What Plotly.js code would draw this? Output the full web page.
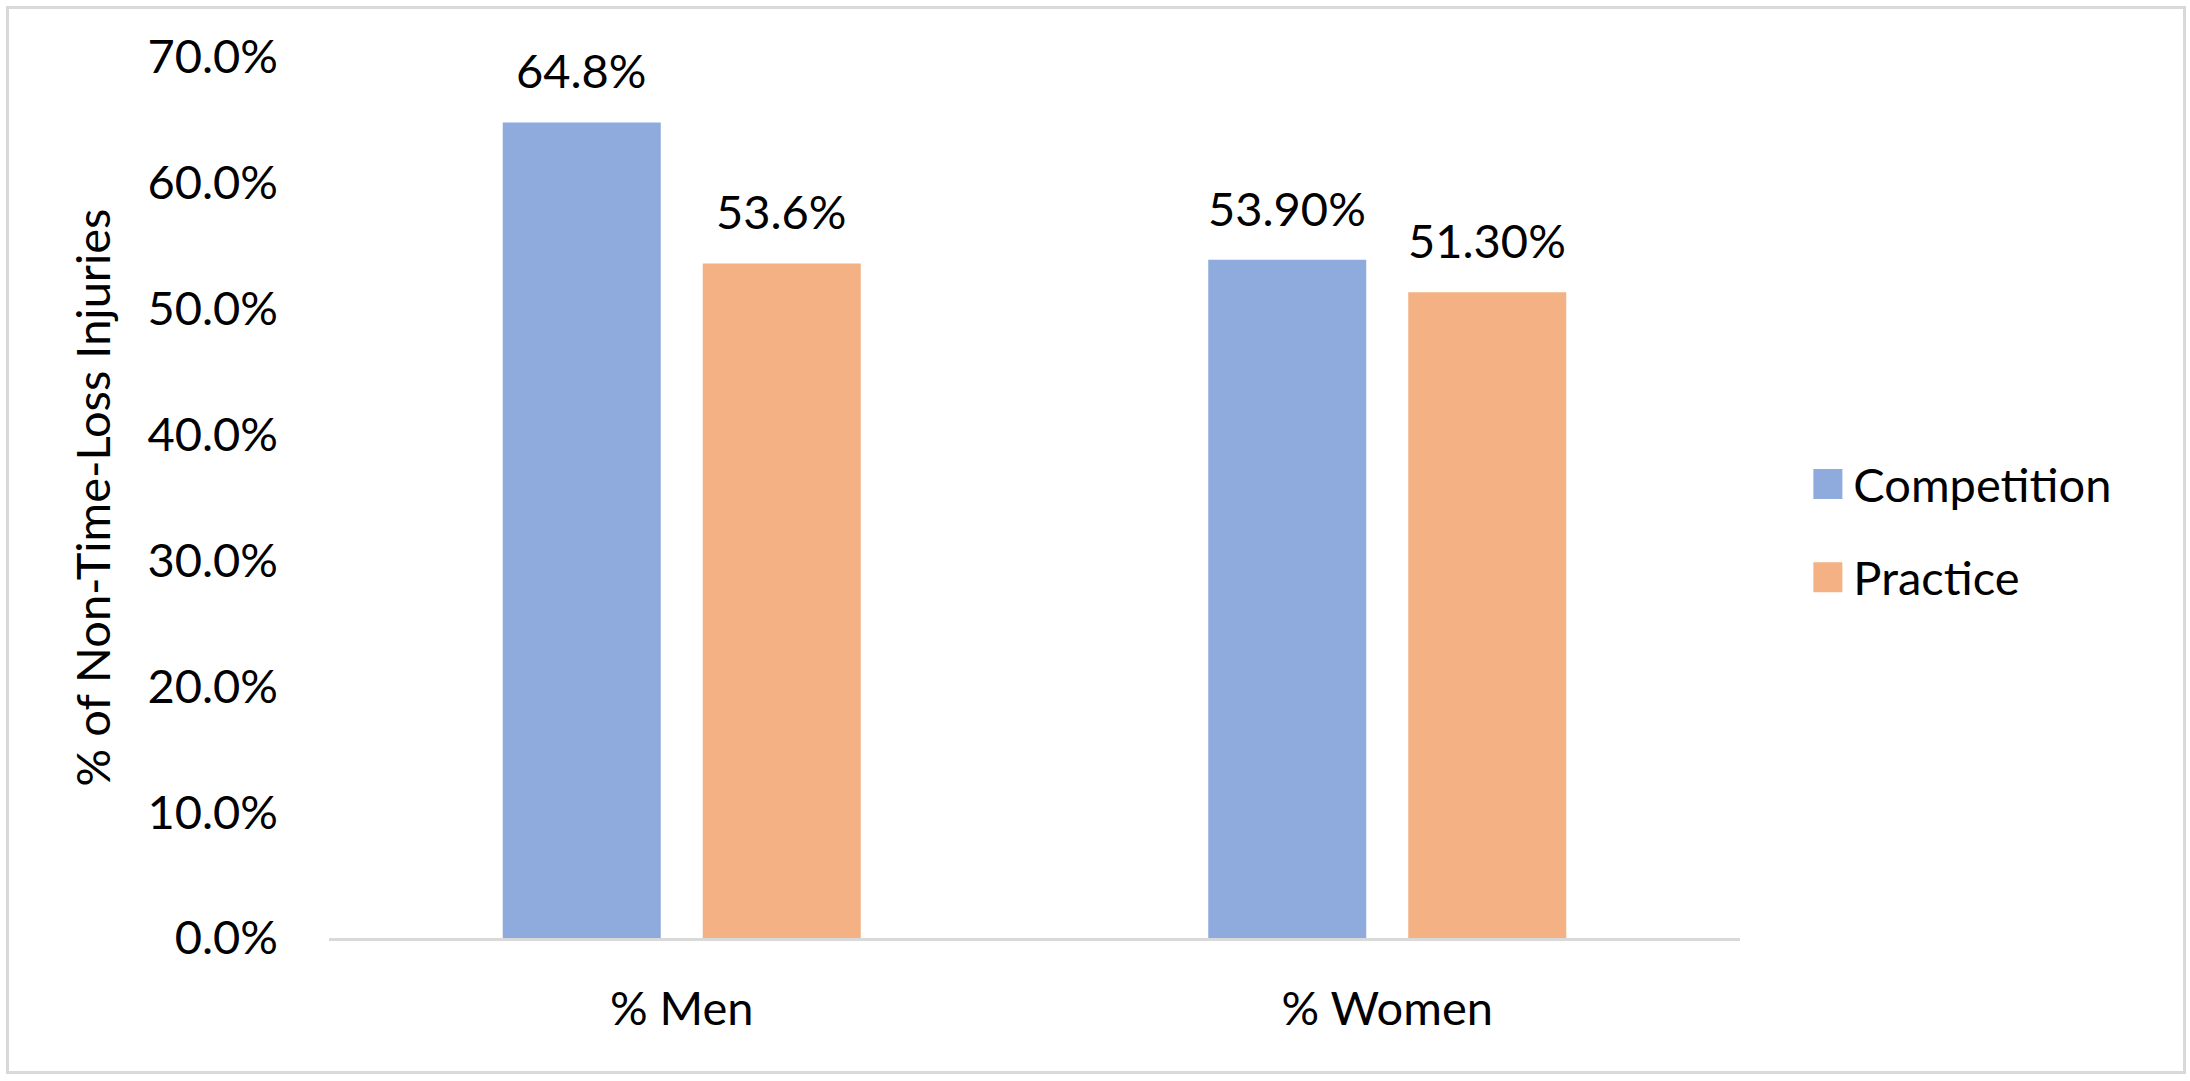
<!DOCTYPE html>
<html>
<head>
<meta charset="utf-8">
<script src="https://cdn.plot.ly/plotly-3.0.1.min.js"></script>
<style>
  html, body { margin: 0; padding: 0; background: #ffffff; }
  #chart { width: 2190px; height: 1081px; }
  #frame { position: absolute; left: 6px; top: 6px; width: 2174px; height: 1062px;
           border: 3px solid #d9d9d9; pointer-events: none; }
</style>
</head>
<body>
<div id="chart"></div>
<div id="frame"></div>
<script>
// ---- data ----
const categories = ['% Men', '% Women'];
const seriesNames = ['Competition', 'Practice'];
const competitionValues = [0.648, 0.539];
const practiceValues = [0.536, 0.513];
const competitionLabels = ['64.8%', '53.90%'];
const practiceLabels = ['53.6%', '51.30%'];
const yTickValues = [0, 0.1, 0.2, 0.3, 0.4, 0.5, 0.6, 0.7];
const yTitle = '% of Non-Time-Loss Injuries';

// ---- style ----
const FONT = 'Lato, "Open Sans", sans-serif';
const FS = 47;
const colors = ['#8FAADC', '#F4B183'];

const traces = [
  { type: 'bar', name: seriesNames[0], x: categories, y: competitionValues,
    marker: { color: colors[0] }, legendgroup: 'g1', hoverinfo: 'none' },
  { type: 'bar', name: seriesNames[1], x: categories, y: practiceValues,
    marker: { color: colors[1] }, legendgroup: 'g2', hoverinfo: 'none' }
];

// data labels placed on the data scales, offset to each bar of the group
const slotShift = 100;
const annotations = [];
categories.forEach((c, i) => {
  annotations.push({ x: c, y: competitionValues[i], xref: 'x', yref: 'y', text: competitionLabels[i],
    showarrow: false, xshift: -slotShift, yshift: 22, yanchor: 'bottom',
    font: { family: FONT, size: FS, color: '#000' } });
  annotations.push({ x: c, y: practiceValues[i], xref: 'x', yref: 'y', text: practiceLabels[i],
    showarrow: false, xshift: slotShift, yshift: 22, yanchor: 'bottom',
    font: { family: FONT, size: FS, color: '#000' } });
});

const layout = {
  width: 2190, height: 1081,
  margin: { l: 329, r: 450, t: 57, b: 143, pad: 0 },
  paper_bgcolor: '#ffffff', plot_bgcolor: '#ffffff',
  font: { family: FONT, size: FS, color: '#000' },
  barmode: 'group', bargap: 0.433, bargroupgap: 0.21,
  showlegend: true,
  legend: { x: 1.052, xanchor: 'left', y: 0.462, yanchor: 'middle',
            font: { family: FONT, size: FS, color: '#000' },
            tracegroupgap: 29, bgcolor: 'rgba(0,0,0,0)' },
  xaxis: { type: 'category', showgrid: false, zeroline: false,
           showline: true, linecolor: '#d9d9d9', linewidth: 3,
           ticks: '', ticklabelstandoff: 28,
           tickfont: { family: FONT, size: FS, color: '#000' } },
  yaxis: { range: [0, 0.7], tickvals: yTickValues, tickformat: '.1%',
           showgrid: false, zeroline: false, showline: false, ticks: '',
           ticklabelstandoff: 50,
           tickfont: { family: FONT, size: FS, color: '#000' },
           title: { text: yTitle, standoff: 22, font: { family: FONT, size: FS, color: '#000' } } },
  annotations: annotations
};

function enlargeLegendSwatches() {
  document.querySelectorAll('.legend .legendpoints path').forEach(p => {
    p.setAttribute('d', 'M9,15H-21V-15H9Z');
  });
}

Plotly.newPlot('chart', traces, layout, { staticPlot: true, displayModeBar: false }).then(() => {
  enlargeLegendSwatches();
  setTimeout(enlargeLegendSwatches, 50);
});
</script>
</body>
</html>
